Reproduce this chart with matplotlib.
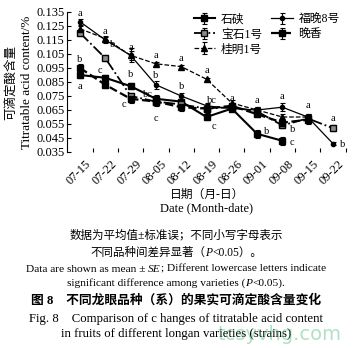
import numpy as np
import matplotlib
matplotlib.use("Agg")
import matplotlib.pyplot as plt
import matplotlib.transforms as mtransforms
from matplotlib.ticker import FixedLocator

plt.rcParams['font.family'] = ['Liberation Serif', 'Noto Sans CJK SC']

dates = ['07-15', '07-22', '07-29', '08-05', '08-12', '08-19', '08-26',
         '09-01', '09-08', '09-15', '09-22']
nan = np.nan
shixia = [0.090, 0.088, 0.082, 0.073, 0.071, 0.060, 0.066, 0.048, 0.043, nan, nan]
fuwan8 = [0.128, 0.115, 0.104, 0.083, 0.075, 0.068, 0.066, 0.065, 0.067, 0.060, 0.041]
baoshi1 = [0.120, 0.102, 0.075, 0.071, 0.069, 0.066, 0.067, 0.064, 0.054, 0.059, 0.052]
wanxiang = [0.095, 0.083, 0.073, 0.071, 0.067, 0.066, 0.068, 0.062, 0.056, 0.058, nan]
guiming1 = [0.123, 0.116, 0.104, 0.098, 0.096, 0.087, 0.070, 0.065, 0.060, 0.060, nan]

se_shixia = [0.002, 0.002, 0.002, 0.003, 0.002, 0.002, 0.002, 0.003, 0.003, nan, nan]
se_fuwan8 = [0.002, 0.002, 0.003, 0.003, 0.002, 0.002, 0.002, 0.002, 0.003, 0.002, 0.001]
se_baoshi1 = [0.002, 0.002, 0.002, 0.002, 0.003, 0.002, 0.002, 0.002, 0.002, 0.002, 0.002]
se_wanxiang = [0.003, 0.002, 0.003, 0.003, 0.003, 0.003, 0.002, 0.002, 0.002, 0.003, nan]
se_guiming1 = [0.002, 0.002, 0.005, 0.001, 0.001, 0.001, 0.002, 0.002, 0.002, 0.002, nan]

names = ['石硖', '宝石1号', '桂明1号', '福晚8号', '晚香']
series = [shixia, baoshi1, guiming1, fuwan8, wanxiang]
errors = [se_shixia, se_baoshi1, se_guiming1, se_fuwan8, se_wanxiang]
styles = [
    dict(ls='-', lw=1.5, marker='s', ms=5, mfc='black'),
    dict(ls='-.', lw=1.3, marker='s', ms=4.5, mfc='0.55'),
    dict(ls='--', lw=0.9, marker='^', ms=4.5, mfc='black'),
    dict(ls='-', lw=0.9, marker='o', ms=3, mfc='black'),
    dict(ls='--', lw=1.6, marker='s', ms=4.5, mfc='black'),
]

# significance letters: (series index, date index, letter, dx pts, dy pts)
letters = [
    (3, 0, 'a', 0, 6), (4, 0, 'b', 0, 6), (0, 0, 'a', 0, -8),
    (3, 1, 'a', 0, 6), (2, 1, 'b', 5, -4), (0, 1, 'c', -4, 5),
    (3, 2, 'a', 0, 6), (2, 2, 'b', 0, -14), (4, 2, 'c', -5, -4),
    (2, 3, 'a', 0, 6), (3, 3, 'b', 0, 7), (0, 3, 'bc', -6, 3), (1, 3, 'c', 0, -12),
    (2, 4, 'a', 0, 6), (3, 4, 'b', 0, 7),
    (2, 5, 'a', 0, 6), (3, 5, 'bc', 4, 4), (0, 5, 'c', 5, -7),
    (3, 6, 'a', 0, 7),
    (3, 7, 'a', 0, 7), (0, 7, 'b', 7, 2),
    (3, 8, 'a', 0, 8), (1, 8, 'b', 7, -3), (0, 8, 'c', 7, -1),
    (3, 9, 'a', 0, 8),
    (1, 10, 'a', 0, 7), (3, 10, 'b', 7, -1),
]

fig = plt.figure(figsize=(3.53, 3.48), dpi=100)
ax = fig.add_axes([67.4 / 353, 1 - 152 / 348, (345.6 - 67.4) / 353, 140 / 348])
x = np.arange(len(dates))
handles = []
for name, y, e, st in zip(names, series, errors, styles):
    h = ax.errorbar(x, y, yerr=e, color='black', mec='black', capsize=1.8,
                    elinewidth=0.8, capthick=0.8, label=name, **st)
    handles.append(h)

for si, di, t, dx, dy in letters:
    ax.annotate(t, (x[di], series[si][di]), xytext=(dx, dy),
                textcoords='offset points', ha='center', va='center',
                fontsize=7.5)

ax.set_xlim(-0.5, 10.5)
ax.set_ylim(0.035, 0.135)
ax.set_yticks(np.arange(0.035, 0.1351, 0.01))
ax.set_yticklabels([f'{v:.3f}' for v in np.arange(0.035, 0.1351, 0.01)], fontsize=9)
ax.set_xticks(x)
ax.set_xticklabels(dates, rotation=45, ha='right', rotation_mode='anchor', fontsize=9)
ax.xaxis.set_minor_locator(FixedLocator(x + 0.5))
ax.tick_params(axis='x', which='major', length=0, pad=4)
ax.tick_params(axis='x', which='minor', length=3, direction='in', width=0.8)
ax.tick_params(axis='y', direction='in', length=3, width=0.8, pad=2)
for s in ['top', 'right', 'bottom']:
    ax.spines[s].set_visible(False)
ax.spines['left'].set_linewidth(0.8)
shift = mtransforms.ScaledTranslation(5 / 100, 0, fig.dpi_scale_trans)
for lab in ax.get_xticklabels():
    lab.set_transform(lab.get_transform() + shift)

fig.text(12 / 353, 1 - 82 / 348, '可滴定酸含量', rotation=90, ha='center', va='center', fontsize=9)
fig.text(27 / 353, 1 - 82 / 348, 'Titratable acid content/%', rotation=90, ha='center', va='center', fontsize=9.5)

leg = fig.legend(handles=handles, labels=names, ncol=2, loc='upper left',
                 bbox_to_anchor=(183 / 353, 1 - 3 / 348), frameon=False,
                 fontsize=8.5, handlelength=1.8, handletextpad=0.5,
                 columnspacing=0.8, labelspacing=0.25)

cx = 207 / 353
fig.text(cx, 1 - 195 / 348, '日期（月-日）', ha='center', va='center', fontsize=8.5)
fig.text(cx, 1 - 208 / 348, 'Date (Month-date)', ha='center', va='center', fontsize=9)

renderer = fig.canvas.get_renderer()


def seq_text(ypix, pieces, fontsize, center=176):
    """Draw a line made of several differently styled pieces, centred."""
    objs = []
    for txt, style in pieces:
        o = fig.text(0, 1 - ypix / 348, txt, ha='left', va='center',
                     fontsize=fontsize, fontstyle=style)
        objs.append(o)
    widths = [o.get_window_extent(renderer).width for o in objs]
    total = sum(widths)
    xp = center - total / 2
    for o, w in zip(objs, widths):
        o.set_x(xp / 353)
        xp += w


mid = 176 / 353
fig.text(mid, 1 - 235 / 348, '数据为平均值±标准误；不同小写字母表示', ha='center', va='center', fontsize=8.3)
seq_text(253, [('不同品种间差异显著（', 'normal'), ('P', 'italic'), ('<0.05）。', 'normal')], 8.3)
seq_text(269, [('Data are shown as mean ± ', 'normal'), ('SE', 'italic'),
               ('; Different lowercase letters indicate', 'normal')], 8.2)
seq_text(283, [('significant difference among varieties (', 'normal'), ('P', 'italic'),
               ('<0.05).', 'normal')], 8.2)
fig.text(mid, 1 - 300 / 348, '图 8　不同龙眼品种（系）的果实可滴定酸含量变化',
         ha='center', va='center', fontsize=9.2, fontweight='bold')
fig.text(mid, 1 - 319 / 348, 'Fig. 8    Comparison of c hanges of titratable acid content',
         ha='center', va='center', fontsize=9.2)
fig.text(mid, 1 - 334 / 348, 'in fruits of different longan varieties (strains)',
         ha='center', va='center', fontsize=9.2)
fig.text(342 / 353, 1 - 335 / 348, 'tcsyvhg.com', ha='right', va='center', fontsize=14,
         color='#3cb371', alpha=0.4, family='DejaVu Sans')

fig.savefig('out.png', dpi=100)
